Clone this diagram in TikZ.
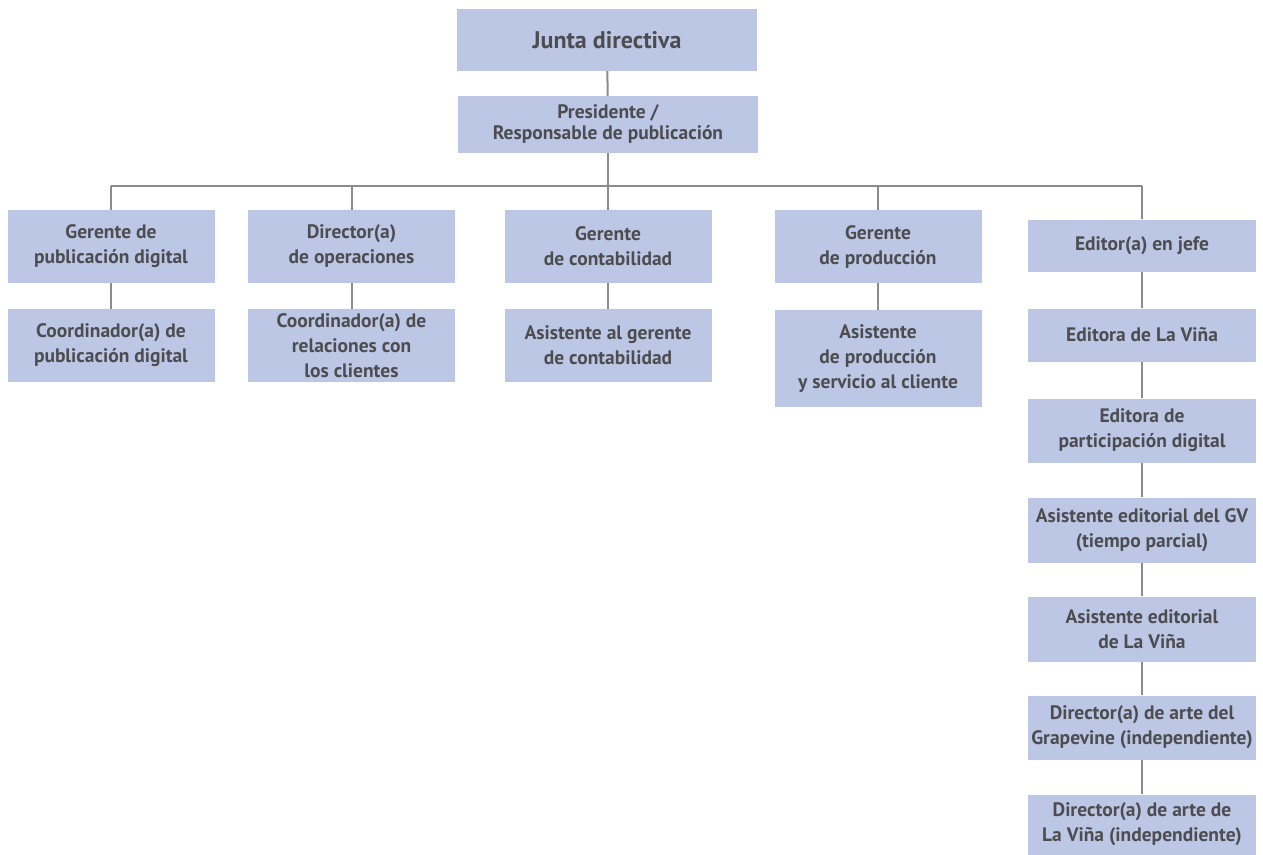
\documentclass[tikz,border=0pt]{standalone}
\usepackage{fontspec}
\setmainfont{PT Sans}
\usepackage{tikz}
\usetikzlibrary{positioning}
\definecolor{boxblue}{RGB}{188,199,230}
\definecolor{textgray}{RGB}{77,77,80}
\definecolor{linegray}{RGB}{140,140,140}
\tikzset{
  box/.style={fill=boxblue, text=textgray, align=center, inner sep=0pt,
    font=\bfseries\fontsize{19.5}{25}\selectfont},
  colbox/.style={box, minimum width=207pt, minimum height=73pt},
  edbox/.style={box, minimum width=228pt},
  link/.style={draw=linegray, line width=2pt}
}
\begin{document}
\begin{tikzpicture}[x=1pt, y=-1pt]
\useasboundingbox (0,0) rectangle (1263,854);
\node[box, minimum width=300pt, minimum height=62pt,
  font=\bfseries\fontsize{24}{28}\selectfont] (junta) at (607,40) {Junta directiva};
\node[box, minimum width=300pt, minimum height=57pt,
  font=\bfseries\fontsize{19.5}{21}\selectfont] (pres) at (608,124.5)
  {Presidente /\\Responsable de publicación};
\coordinate (bus) at (608,186);
\node[colbox] (gpd) at (111,246.5) {Gerente de\\publicación digital};
\node[colbox] (cpd) at (111,345.5) {Coordinador(a) de\\publicación digital};
\node[colbox] (dop) at (351.5,246.5) {Director(a)\\de operaciones};
\node[colbox] (crc) at (351.5,345.5) {Coordinador(a) de\\relaciones con\\los clientes};
\node[colbox] (gco) at (608,246.5) {Gerente\\de contabilidad};
\node[colbox] (agc) at (608,345.5) {Asistente al gerente\\de contabilidad};
\node[colbox] (gpr) at (878,246.5) {Gerente\\de producción};
\node[colbox, minimum height=97pt] (apr) at (878,358.5)
  {Asistente\\de producción\\y servicio al cliente};
\node[edbox, minimum height=52pt] (jefe) at (1142,245.5) {Editor(a) en jefe};
\node[edbox, minimum height=53pt] (evi) at (1142,335) {Editora de La Viña};
\node[edbox, minimum height=64pt] (epd) at (1142,430.5) {Editora de\\participación digital};
\node[edbox, minimum height=65pt] (agv) at (1142,530)
  {Asistente editorial del GV\\(tiempo parcial)};
\node[edbox, minimum height=65pt] (alv) at (1142,629)
  {Asistente editorial\\de La Viña};
\node[edbox, minimum height=64pt] (dag) at (1142,727.5)
  {Director(a) de arte del\\Grapevine (independiente)};
\node[edbox, minimum height=60pt] (dal) at (1142,824.5)
  {Director(a) de arte de\\La Viña (independiente)};
\path[link] (junta) -- (pres);
\path[link] (pres) -- (bus);
\path[link] (gpd.north |- bus) -- (jefe.north |- bus);
\foreach \n in {gpd,dop,gco,gpr,jefe}
  \path[link] (\n.north |- bus) -- (\n.north);
\path[link] (gpd) -- (cpd);
\path[link] (dop) -- (crc);
\path[link] (gco) -- (agc);
\path[link] (gpr) -- (apr);
\path[link] (jefe) -- (evi);
\path[link] (evi) -- (epd);
\path[link] (epd) -- (agv);
\path[link] (agv) -- (alv);
\path[link] (alv) -- (dag);
\path[link] (dag) -- (dal);
\end{tikzpicture}
\end{document}
